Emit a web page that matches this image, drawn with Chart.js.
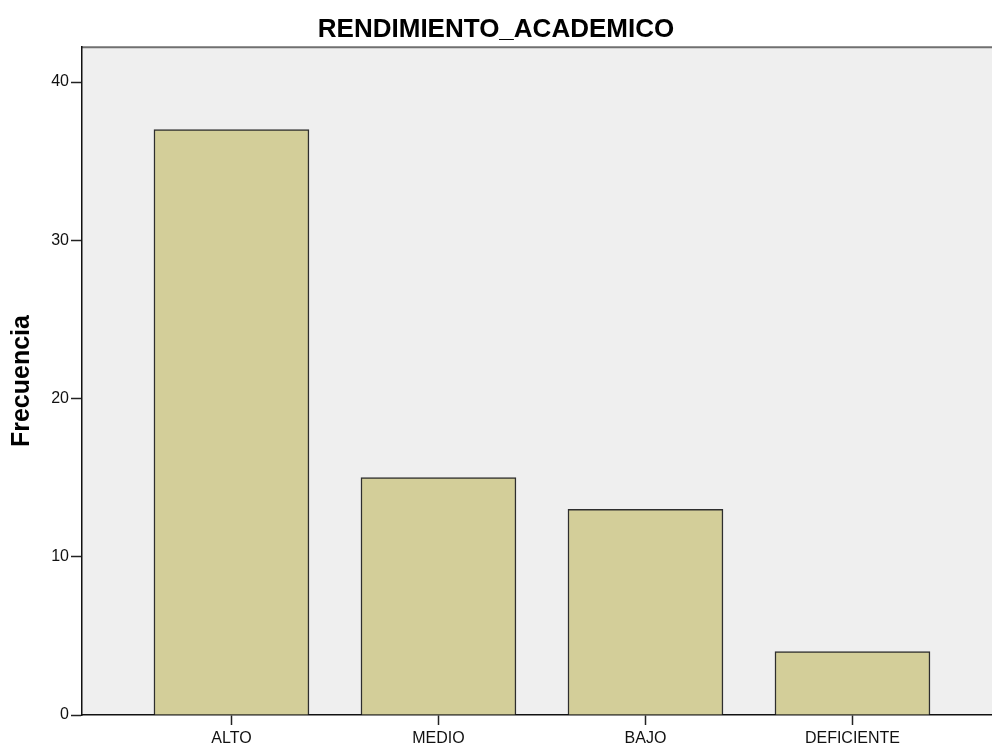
<!DOCTYPE html>
<html>
<head>
<meta charset="utf-8">
<script src="https://cdn.jsdelivr.net/npm/chart.js@4/dist/chart.umd.min.js"></script>
<style>
  html, body { margin: 0; padding: 0; background: #ffffff; }
  #myChart { display: block; }
</style>
</head>
<body>
<canvas id="myChart" width="992" height="746"></canvas>
<script>
// data
const categories = ['ALTO', 'MEDIO', 'BAJO', 'DEFICIENTE']
const frecuencia = [37, 15, 13, 4]
const yTicks = [0, 10, 20, 30, 40]

const FONT = "'Liberation Sans', Arial, sans-serif"

// plot area background + grey top edge, like the SPSS frame
const plotFrame = {
  id: 'plotFrame',
  beforeDraw(chart) {
    const a = chart.chartArea
    const ctx = chart.ctx
    ctx.save()
    ctx.fillStyle = '#efefef'
    ctx.fillRect(a.left, a.top, a.right - a.left, a.bottom - a.top)
    ctx.strokeStyle = '#707070'
    ctx.lineWidth = 2
    ctx.beginPath()
    ctx.moveTo(a.left, a.top)
    ctx.lineTo(a.right, a.top)
    ctx.stroke()
    ctx.restore()
  }
}

const data = {
  datasets: [{
    label: 'Frecuencia',
    data: categories.map((c, i) => ({ x: i, y: frecuencia[i] })),
    backgroundColor: 'rgb(211, 206, 153)',
    borderColor: '#2e2e2e',
    borderWidth: 1.5,
    barThickness: 155
  }]
}

const config = {
  type: 'bar',
  data: data,
  plugins: [plotFrame],
  options: {
    responsive: false,
    animation: false,
    layout: { padding: 0 },
    plugins: {
      legend: { display: false },
      tooltip: { enabled: false },
      title: {
        display: true,
        text: 'RENDIMIENTO_ACADEMICO',
        color: '#000',
        font: { family: FONT, size: 26, weight: 'bold', lineHeight: 1.2 },
        padding: { top: 14, bottom: 2 }
      }
    },
    scales: {
      x: {
        type: 'linear',
        offset: false,
        min: -0.722,
        max: 3.674,
        afterBuildTicks(scale) {
          scale.ticks = categories.map((c, i) => ({ value: i }))
        },
        afterFit(scale) { scale.height = 31 },
        ticks: {
          callback: (v) => categories[v],
          color: '#111',
          font: { family: FONT, size: 16 },
          padding: 4,
          maxRotation: 0,
          autoSkip: false
        },
        grid: { offset: false, drawOnChartArea: false, tickLength: 10, color: '#222', tickWidth: 1.5 },
        border: { color: '#111', width: 1.5 }
      },
      y: {
        min: 0,
        max: 42.2,
        afterBuildTicks(scale) {
          scale.ticks = yTicks.map(v => ({ value: v }))
        },
        afterFit(scale) { scale.width = 82 },
        ticks: {
          color: '#111',
          font: { family: FONT, size: 16 },
          padding: 2
        },
        grid: { drawOnChartArea: false, tickLength: 11, color: '#222', tickWidth: 1.5 },
        border: { color: '#111', width: 1.5 },
        title: {
          display: true,
          text: 'Frecuencia',
          color: '#000',
          font: { family: FONT, size: 25, weight: 'bold', lineHeight: 1.2 },
          padding: { top: 7, bottom: 0 }
        }
      }
    }
  }
}

const myChart = new Chart(document.getElementById('myChart'), config)
</script>
</body>
</html>
